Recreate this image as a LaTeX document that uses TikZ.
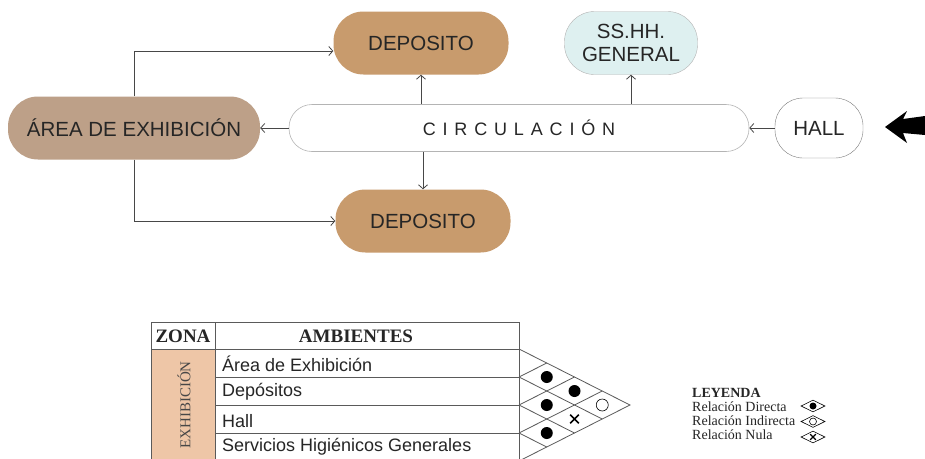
\documentclass[tikz,border=0pt]{standalone}
\usepackage{fontspec}
\setmainfont{Liberation Serif}
\setsansfont{Liberation Sans}
\newfontfamily\spacedsans[LetterSpace=38]{Liberation Sans}
\usetikzlibrary{arrows.meta,shapes.geometric,shapes.misc}
\definecolor{ink}{HTML}{262626}
\definecolor{deposit}{HTML}{C89B6D}
\definecolor{exhib}{HTML}{BDA088}
\definecolor{sshh}{HTML}{DEF0F0}
\definecolor{zonefill}{HTML}{EEC6A7}
\definecolor{border}{HTML}{B4B4B4}
\definecolor{grid}{HTML}{5A5A5A}

\begin{document}
\begin{tikzpicture}[x=1pt,y=-1pt,
  room/.style={rounded corners=30pt,minimum height=63pt,inner sep=0pt,align=center,
    text=ink,font=\sffamily\fontsize{20.5}{23}\selectfont},
  deposit/.style={room,fill=deposit,minimum width=175pt},
  flow/.style={draw=ink!85,line width=.8pt,-{Straight Barb[length=4pt,width=9pt]}},
  gridline/.style={draw=grid,line width=.8pt},
  rowtext/.style={anchor=west,inner sep=2pt,text=ink,font=\sffamily\fontsize{18}{20}\selectfont},
  head/.style={text=ink,font=\bfseries\fontsize{19}{22}\selectfont},
  dot/.style={circle,fill=black,inner sep=0pt,minimum size=12pt},
  hollow/.style={circle,draw=black,line width=.6pt,inner sep=0pt,minimum size=12pt},
  nul/.style={cross out,draw=black,line width=1.6pt,inner sep=0pt,minimum size=7pt},
  legend/.style={anchor=west,inner sep=0pt,text=ink,font=\fontsize{14}{14}\selectfont},
  key/.style={diamond,draw=black,line width=.6pt,inner sep=0pt,minimum width=24pt,minimum height=12pt}
]
\useasboundingbox (0,0) rectangle (925,458);
\clip (0,0) rectangle (925,458);
\fill[white] (0,0) rectangle (925,458);

% relation diagram
\node[deposit] (depup) at (421,43) {DEPOSITO};
\node[deposit] (depdown) at (423,221) {DEPOSITO};
\node[room,fill=sshh,draw=border,line width=.4pt,minimum width=133pt] (sshh) at (631,43) {SS.HH.\\GENERAL};
\node[room,fill=exhib,minimum width=252pt] (area) at (134,128) {ÁREA DE EXHIBICIÓN};
\node[room,draw=border,line width=.6pt,minimum width=460pt,minimum height=47pt,rounded corners=23pt,
  font=\spacedsans\fontsize{18}{20}\selectfont] (circ) at (519,128) {CIRCULACIÓN};
\node[room,draw=ink!60,line width=.4pt,minimum width=88pt,minimum height=60pt,rounded corners=28pt] (hall) at (819,128) {HALL};

\draw[flow] (circ.north -| depup) -- (depup.south);
\draw[flow] (circ.north -| sshh) -- (sshh.south);
\draw[flow] (circ.south -| depdown) -- (depdown.north);
\draw[flow] (circ.west) -- (area.east);
\draw[flow] (hall.west) -- (circ.east);
\draw[flow] (area.north) |- ([yshift=-8pt]depup.west);
\draw[flow] (area.south) |- (depdown.west);

% entrance
\fill[black] (885,127) -- (907,111) -- (903,119) -- (925,116) -- (925,135) -- (903,133) -- (907,143) -- cycle;

% relation matrix
\fill[zonefill] (151,349) rectangle (215,461);
\draw[gridline] (151,322) rectangle (519,461);
\draw[gridline] (215,322) -- (215,461);
\draw[gridline] (151,349) -- (519,349);
\foreach \y in {377,405,433}
  \draw[gridline] (215,\y) -- (519,\y);
\draw[gridline] (519,349) -- (630,405) -- (519,461);
\foreach \i in {1,2,3} {
  \draw[gridline] (519,349+28*\i) -- ++({(4-\i)*27.75},{(4-\i)*14});
  \draw[gridline] (519,461-28*\i) -- ++({(4-\i)*27.75},{-(4-\i)*14});
}

\node[head] (zona) at (183,336) {ZONA};
\node[head] (ambientes) at (356,336) {AMBIENTES};
\node[rotate=90,text=ink!85,font=\fontsize{15}{18}\selectfont] (zoneexhib) at (184,405) {EXHIBICIÓN};
\node[rowtext] (rowarea) at (220,364) {Área de Exhibición};
\node[rowtext] (rowdep) at (220,392) {Depósitos};
\node[rowtext] (rowhall) at (220,421) {Hall};
\node[rowtext] (rowss) at (220,447) {Servicios Higiénicos Generales};

\node[dot] (m12) at (546.75,377) {};
\node[dot] (m23) at (546.75,405) {};
\node[dot] (m34) at (546.75,433) {};
\node[dot] (m13) at (574.5,391) {};
\node[nul] (m24) at (574.5,419) {};
\node[hollow] (m14) at (602.25,405) {};

% legend
\node[legend,font=\bfseries\fontsize{14}{14}\selectfont] (leyenda) at (692,393) {LEYENDA};
\node[legend] (ldirect) at (692,407) {Relación Directa};
\node[legend] (lindirect) at (692,421) {Relación Indirecta};
\node[legend] (lnull) at (692,435) {Relación Nula};
\node[key] (kdirect) at (813,406) {};
\node[key] (kindirect) at (813,421.5) {};
\node[key] (knull) at (813,437) {};
\node[dot,minimum size=7pt] at (kdirect) {};
\node[hollow,minimum size=7pt] at (kindirect) {};
\node[nul,line width=1.2pt,minimum size=4.5pt] at (knull) {};
\end{tikzpicture}
\end{document}
